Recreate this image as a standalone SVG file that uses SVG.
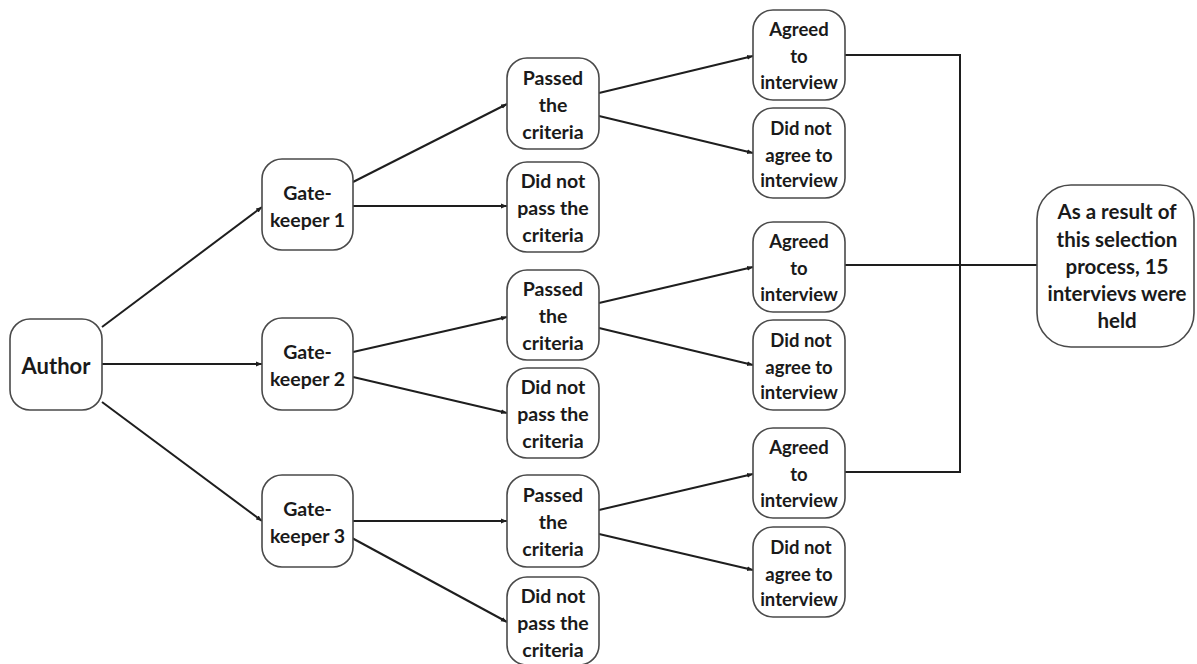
<svg xmlns="http://www.w3.org/2000/svg" width="1197" height="664" viewBox="0 0 1197 664">
<defs>
<style>
.n{fill:#fff;stroke:#4a4a4a;stroke-width:1.6}
.t{font-family:Lato,"Liberation Sans",sans-serif;font-weight:bold;font-size:19.5px;fill:#1a1a1a;text-anchor:middle}
.s{font-size:18.5px}
.c{fill:none;stroke:#1e1e1e;stroke-width:2}
.a{marker-end:url(#arr)}
</style>
<marker id="arr" viewBox="0 0 10 10" refX="10" refY="5" markerWidth="6" markerHeight="6" orient="auto" markerUnits="userSpaceOnUse">
<path d="M0,1 L10,5 L0,9 z" fill="#1e1e1e"/>
</marker>
</defs>
<rect width="1197" height="664" fill="#fff"/>
<g id="connectors">
<line class="c a" x1="102" y1="327" x2="262" y2="207"/>
<line class="c a" x1="102" y1="364" x2="262" y2="364"/>
<line class="c a" x1="102" y1="402" x2="262" y2="521"/>
<line class="c a" x1="353" y1="182" x2="507" y2="104"/>
<line class="c a" x1="353" y1="206" x2="507" y2="206"/>
<line class="c a" x1="353" y1="352" x2="507" y2="317"/>
<line class="c a" x1="353" y1="377" x2="507" y2="413"/>
<line class="c a" x1="352" y1="521" x2="507" y2="521"/>
<line class="c a" x1="352" y1="538" x2="507" y2="622"/>
<line class="c a" x1="599" y1="93" x2="753" y2="56"/>
<line class="c a" x1="599" y1="116" x2="753" y2="153"/>
<line class="c a" x1="599" y1="303" x2="753" y2="267"/>
<line class="c a" x1="599" y1="328" x2="753" y2="365"/>
<line class="c a" x1="599" y1="510" x2="753" y2="474"/>
<line class="c a" x1="599" y1="534" x2="753" y2="570"/>
<polyline class="c" points="845,55 960,55 960,472 845,472"/>
<line class="c" x1="845" y1="265" x2="1037" y2="265"/>
</g>
<g id="author"><rect class="n" x="10" y="319" width="92" height="91" rx="20"/><text class="t" x="56" y="374" style="font-size:22px">Author</text></g>
<g id="gk1"><rect class="n" x="262" y="159" width="91" height="91" rx="20"/><text class="t" x="307.5" y="200">Gate-</text><text class="t" x="307.5" y="227">keeper 1</text></g>
<g id="gk2"><rect class="n" x="262" y="318" width="91" height="92" rx="20"/><text class="t" x="307.5" y="359">Gate-</text><text class="t" x="307.5" y="386">keeper 2</text></g>
<g id="gk3"><rect class="n" x="262" y="475" width="91" height="92" rx="20"/><text class="t" x="307.5" y="516">Gate-</text><text class="t" x="307.5" y="543">keeper 3</text></g>
<g id="passed1"><rect class="n" x="507" y="58" width="92" height="91" rx="20"/><text class="t" x="553" y="85">Passed</text><text class="t" x="553" y="112">the</text><text class="t" x="553" y="139">criteria</text></g>
<g id="notpass1"><rect class="n" x="507" y="162" width="92" height="90" rx="20"/><text class="t" x="553" y="188">Did not</text><text class="t" x="553" y="215">pass the</text><text class="t" x="553" y="242">criteria</text></g>
<g id="passed2"><rect class="n" x="507" y="270" width="92" height="90" rx="20"/><text class="t" x="553" y="296">Passed</text><text class="t" x="553" y="323">the</text><text class="t" x="553" y="350">criteria</text></g>
<g id="notpass2"><rect class="n" x="507" y="368" width="92" height="90" rx="20"/><text class="t" x="553" y="394">Did not</text><text class="t" x="553" y="421">pass the</text><text class="t" x="553" y="448">criteria</text></g>
<g id="passed3"><rect class="n" x="507" y="475" width="92" height="92" rx="20"/><text class="t" x="553" y="502">Passed</text><text class="t" x="553" y="529">the</text><text class="t" x="553" y="556">criteria</text></g>
<g id="notpass3"><rect class="n" x="507" y="577" width="92" height="88" rx="20"/><text class="t" x="553" y="603">Did not</text><text class="t" x="553" y="630">pass the</text><text class="t" x="553" y="657">criteria</text></g>
<g id="agreed1"><rect class="n" x="753" y="10" width="92" height="90" rx="20"/><text class="t s" x="799" y="36">Agreed</text><text class="t s" x="799" y="63">to</text><text class="t s" x="799" y="89">interview</text></g>
<g id="notagree1"><rect class="n" x="753" y="108" width="92" height="90" rx="20"/><text class="t s" x="801" y="135">Did not</text><text class="t s" x="799" y="162">agree to</text><text class="t s" x="799" y="187">interview</text></g>
<g id="agreed2"><rect class="n" x="753" y="222" width="92" height="90" rx="20"/><text class="t s" x="799" y="248">Agreed</text><text class="t s" x="799" y="275">to</text><text class="t s" x="799" y="301">interview</text></g>
<g id="notagree2"><rect class="n" x="753" y="320" width="92" height="90" rx="20"/><text class="t s" x="801" y="347">Did not</text><text class="t s" x="799" y="374">agree to</text><text class="t s" x="799" y="399">interview</text></g>
<g id="agreed3"><rect class="n" x="753" y="428" width="92" height="90" rx="20"/><text class="t s" x="799" y="454">Agreed</text><text class="t s" x="799" y="481">to</text><text class="t s" x="799" y="507">interview</text></g>
<g id="notagree3"><rect class="n" x="753" y="527" width="92" height="90" rx="20"/><text class="t s" x="801" y="554">Did not</text><text class="t s" x="799" y="581">agree to</text><text class="t s" x="799" y="606">interview</text></g>
<g id="result"><rect class="n" x="1037" y="185" width="157" height="162" rx="34"/><text class="t" x="1117" y="219" style="font-size:20.5px">As a result of</text><text class="t" x="1117" y="247" style="font-size:20.5px">this selection</text><text class="t" x="1117" y="274" style="font-size:20.5px">process, 15</text><text class="t" x="1117" y="301" style="font-size:20.5px">intervievs were</text><text class="t" x="1117" y="328" style="font-size:20.5px">held</text></g>
</svg>
